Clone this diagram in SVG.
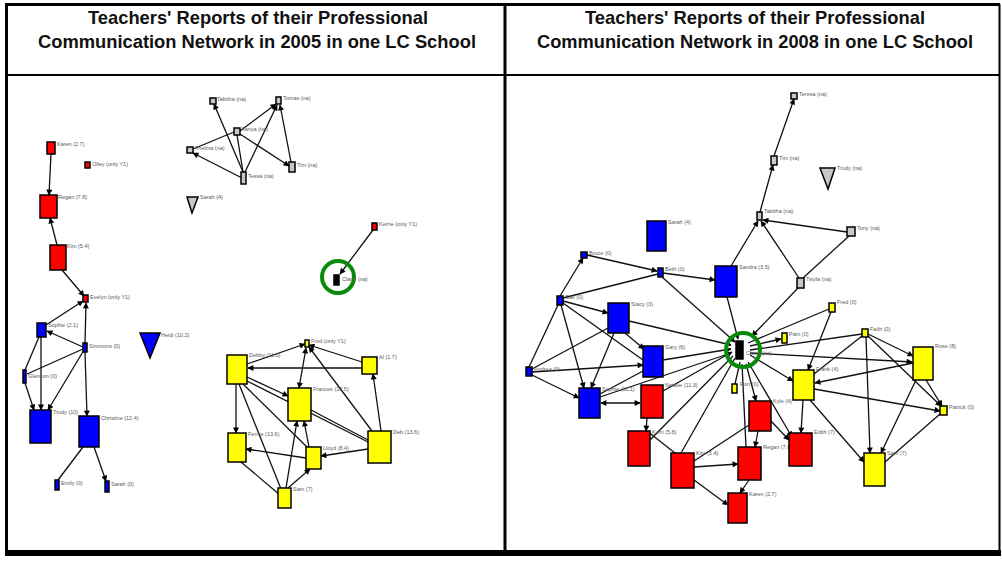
<svg xmlns="http://www.w3.org/2000/svg" width="1002" height="561" viewBox="0 0 1002 561">
  <style>
    .title { font-family: "Liberation Sans", Arial, sans-serif; font-weight: bold; font-size: 19px; fill: #111; }
    .lbl { font-family: "Liberation Sans", Arial, sans-serif; font-size: 5.5px; fill: #5a5a5a; }
    .frame { stroke: #000; fill: none; }
    .n { stroke: #000; stroke-width: 1.5; }
    .red { fill: #ff0000; }
    .blue { fill: #0000ff; }
    .yel { fill: #ffff00; }
    .gray { fill: #c8c8c8; }
    .blk { fill: #000; }
    .ring { fill: none; stroke: #0a8a0a; stroke-width: 4; }
    .e, .a, .b { stroke: #111; stroke-width: 1.3; fill: none; }
    .a { marker-end: url(#arr); }
    .b { marker-start: url(#arr); marker-end: url(#arr); }
  </style>
  <defs>
    <marker id="arr" viewBox="0 0 10 10" refX="9" refY="5" markerWidth="7" markerHeight="6" markerUnits="userSpaceOnUse" orient="auto-start-reverse">
      <path d="M0,0 L10,5 L0,10 z" fill="#000"/>
    </marker>
  </defs>

  <rect x="0" y="0" width="1002" height="561" fill="#fff"/>

  <!-- table frame -->
  <g id="frame">
    <line class="frame" x1="5" y1="4.5" x2="1000" y2="4.5" stroke-width="3"/>
    <line class="frame" x1="6.5" y1="4" x2="6.5" y2="556" stroke-width="3"/>
    <line class="frame" x1="505" y1="4" x2="505" y2="553" stroke-width="3"/>
    <line class="frame" x1="999.5" y1="4" x2="999.5" y2="553" stroke-width="2"/>
    <line class="frame" x1="6" y1="75" x2="1000" y2="75" stroke-width="2"/>
    <rect x="5" y="550" width="996" height="6" fill="#000"/>
  </g>

  <!-- headings -->
  <g id="headings">
    <text class="title" x="258" y="24" text-anchor="middle" textLength="340" lengthAdjust="spacingAndGlyphs">Teachers' Reports of their Professional</text>
    <text class="title" x="257" y="48" text-anchor="middle" textLength="438" lengthAdjust="spacingAndGlyphs">Communication Network in 2005 in one LC School</text>
    <text class="title" x="755" y="24" text-anchor="middle" textLength="340" lengthAdjust="spacingAndGlyphs">Teachers' Reports of their Professional</text>
    <text class="title" x="755" y="48" text-anchor="middle" textLength="436" lengthAdjust="spacingAndGlyphs">Communication Network in 2008 in one LC School</text>
  </g>

  <!-- ===== 2005 network: connectors ===== -->
  <g id="edges-2005">
    <line class="a" x1="51" y1="154" x2="49" y2="195"/>
    <line class="a" x1="57" y1="245" x2="50" y2="218"/>
    <line class="a" x1="62" y1="270" x2="84" y2="296"/>
    <line class="a" x1="85" y1="343" x2="86" y2="303"/>
    <line class="a" x1="46" y1="325" x2="83" y2="301"/>
    <line class="a" x1="83" y1="347" x2="47" y2="331"/>
    <line class="e" x1="39" y1="337" x2="25" y2="370"/>
    <line class="a" x1="41" y1="337" x2="41" y2="410"/>
    <line class="a" x1="25" y1="383" x2="34" y2="410"/>
    <line class="a" x1="84" y1="350" x2="48" y2="410"/>
    <line class="e" x1="83" y1="349" x2="27" y2="374"/>
    <line class="a" x1="85" y1="352" x2="87" y2="416"/>
    <line class="e" x1="83" y1="447" x2="58" y2="480"/>
    <line class="a" x1="94" y1="447" x2="106" y2="481"/>

    <line class="a" x1="243" y1="172" x2="214" y2="104"/>
    <line class="a" x1="242" y1="178" x2="193" y2="153"/>
    <line class="e" x1="243" y1="172" x2="237" y2="135"/>
    <line class="a" x1="245" y1="172" x2="277" y2="105"/>
    <line class="a" x1="240" y1="131" x2="276" y2="104"/>
    <line class="a" x1="240" y1="134" x2="289" y2="166"/>
    <line class="a" x1="291" y1="162" x2="280" y2="105"/>
    <line class="e" x1="193" y1="149" x2="234" y2="132"/>

    <line class="a" x1="373" y1="230" x2="340" y2="274"/>

    <line class="a" x1="247" y1="364" x2="305" y2="344"/>
    <line class="b" x1="299" y1="388" x2="306" y2="348"/>
    <line class="a" x1="362" y1="362" x2="309" y2="345"/>
    <line class="a" x1="372" y1="431" x2="309" y2="347"/>
    <line class="a" x1="362" y1="368" x2="248" y2="368"/>
    <line class="a" x1="247" y1="377" x2="288" y2="396"/>
    <line class="a" x1="236" y1="384" x2="236" y2="433"/>
    <line class="e" x1="243" y1="384" x2="308" y2="448"/>
    <line class="e" x1="239" y1="384" x2="281" y2="489"/>
    <line class="e" x1="247" y1="381" x2="368" y2="442"/>
    <line class="a" x1="286" y1="488" x2="297" y2="421"/>
    <line class="a" x1="309" y1="447" x2="304" y2="421"/>
    <line class="e" x1="311" y1="410" x2="368" y2="440"/>
    <line class="a" x1="381" y1="431" x2="373" y2="374"/>
    <line class="a" x1="368" y1="449" x2="321" y2="456"/>
    <line class="a" x1="306" y1="458" x2="246" y2="449"/>
    <line class="e" x1="241" y1="462" x2="280" y2="495"/>
    <line class="a" x1="288" y1="488" x2="310" y2="469"/>
  </g>

  <!-- ===== 2005 network: nodes ===== -->
  <g id="l-karen"><rect class="n red" x="47" y="142" width="8" height="12"/><text class="lbl" x="57" y="146">Karen (2.7)</text></g>
  <g id="l-olley"><rect class="n red" x="85" y="162" width="5" height="6"/><text class="lbl" x="92" y="166">Olley (only Y1)</text></g>
  <g id="l-regan"><rect class="n red" x="40" y="195" width="17" height="23"/><text class="lbl" x="58" y="199">Regan (7.8)</text></g>
  <g id="l-kim"><rect class="n red" x="50" y="245" width="16" height="25"/><text class="lbl" x="67" y="248">Kim (5.4)</text></g>
  <g id="l-evelyn"><rect class="n red" x="83" y="295" width="5" height="7"/><text class="lbl" x="90" y="299">Evelyn (only Y1)</text></g>

  <g id="l-sophie"><rect class="n blue" x="37" y="323" width="9" height="14"/><text class="lbl" x="48" y="327">Sophie (2.1)</text></g>
  <g id="l-simmons"><rect class="n blue" x="83" y="343" width="4" height="9"/><text class="lbl" x="89" y="348">Simmons (0)</text></g>
  <g id="l-glennon"><rect class="n blue" x="23" y="370" width="3" height="13"/><text class="lbl" x="28" y="378">Glennon (0)</text></g>
  <g id="l-trudy"><rect class="n blue" x="30" y="410" width="21" height="33"/><text class="lbl" x="53" y="414">Trudy (10)</text></g>
  <g id="l-christine"><rect class="n blue" x="79" y="416" width="20" height="31"/><text class="lbl" x="101" y="420">Christine (12.4)</text></g>
  <g id="l-emily"><rect class="n blue" x="55" y="480" width="4" height="10"/><text class="lbl" x="61" y="485">Emily (0)</text></g>
  <g id="l-sarah"><rect class="n blue" x="105" y="481" width="4" height="11"/><text class="lbl" x="111" y="486">Sarah (0)</text></g>
  <g id="l-heidi"><polygon class="n blue" points="140,333 160,333 150,358"/><text class="lbl" x="161" y="337">Heidi (10.2)</text></g>

  <g id="l-tabitha"><rect class="n gray" x="210" y="98" width="6" height="6"/><text class="lbl" x="217" y="101">Tabitha (na)</text></g>
  <g id="l-tomas"><rect class="n gray" x="276" y="97" width="5" height="7"/><text class="lbl" x="283" y="100">Tomas (na)</text></g>
  <g id="l-tanya"><rect class="n gray" x="234" y="128" width="6" height="7"/><text class="lbl" x="242" y="131">Tanya (na)</text></g>
  <g id="l-thelma"><rect class="n gray" x="187" y="147" width="6" height="6"/><text class="lbl" x="195" y="150">Thelma (na)</text></g>
  <g id="l-tim"><rect class="n gray" x="289" y="162" width="6" height="10"/><text class="lbl" x="297" y="167">Tim (na)</text></g>
  <g id="l-tessa"><rect class="n gray" x="241" y="172" width="5" height="12"/><text class="lbl" x="248" y="178">Tessa (na)</text></g>
  <g id="l-sarah-na"><polygon class="n gray" points="187,197 198,197 192,213"/><text class="lbl" x="200" y="199">Sarah (4)</text></g>

  <g id="l-claire"><circle class="ring" cx="338" cy="277" r="16"/><rect class="n blk" x="334" y="275" width="5" height="10"/><text class="lbl" x="342" y="281">Claire (na)</text></g>
  <g id="l-kerrie"><rect class="n red" x="372" y="223" width="5" height="7"/><text class="lbl" x="379" y="226">Kerrie (only Y1)</text></g>

  <g id="l-fred"><rect class="n yel" x="305" y="340" width="4" height="7"/><text class="lbl" x="311" y="343">Fred (only Y1)</text></g>
  <g id="l-debby"><rect class="n yel" x="227" y="355" width="20" height="29"/><text class="lbl" x="249" y="357">Debby (11.6)</text></g>
  <g id="l-al"><rect class="n yel" x="362" y="357" width="15" height="17"/><text class="lbl" x="379" y="359">Al (1.7)</text></g>
  <g id="l-frances"><rect class="n yel" x="288" y="388" width="23" height="33"/><text class="lbl" x="313" y="391">Frances (12.5)</text></g>
  <g id="l-fernie"><rect class="n yel" x="228" y="433" width="18" height="29"/><text class="lbl" x="248" y="436">Fernie (13.6)</text></g>
  <g id="l-lloyd"><rect class="n yel" x="306" y="447" width="15" height="22"/><text class="lbl" x="323" y="450">Lloyd (8.4)</text></g>
  <g id="l-deb"><rect class="n yel" x="368" y="431" width="23" height="32"/><text class="lbl" x="393" y="434">Deb (13.6)</text></g>
  <g id="l-sam"><rect class="n yel" x="278" y="488" width="13" height="20"/><text class="lbl" x="293" y="491">Sam (7)</text></g>

  <!-- ===== 2008 network: connectors ===== -->
  <g id="edges-2008">
    <line class="a" x1="774" y1="156" x2="794" y2="99"/>
    <line class="a" x1="760" y1="212" x2="773" y2="165"/>
    <line class="a" x1="847" y1="232" x2="763" y2="220"/>
    <line class="a" x1="799" y1="278" x2="761" y2="221"/>
    <line class="a" x1="731" y1="266" x2="758" y2="221"/>
    <line class="e" x1="803" y1="278" x2="849" y2="236"/>
    <line class="a" x1="798" y1="288" x2="752" y2="336"/>
    <line class="a" x1="727" y1="297" x2="738" y2="339"/>
    <line class="a" x1="663" y1="273" x2="715" y2="280"/>
    <line class="a" x1="587" y1="255" x2="657" y2="271"/>
    <line class="a" x1="560" y1="296" x2="583" y2="258"/>
    <line class="e" x1="563" y1="298" x2="658" y2="274"/>
    <line class="a" x1="662" y1="277" x2="735" y2="342"/>
    <line class="a" x1="563" y1="301" x2="608" y2="313"/>
    <line class="e" x1="563" y1="303" x2="643" y2="360"/>
    <line class="a" x1="561" y1="305" x2="584" y2="388"/>
    <line class="e" x1="558" y1="305" x2="529" y2="367"/>
    <line class="a" x1="629" y1="321" x2="731" y2="345"/>
    <line class="a" x1="614" y1="333" x2="591" y2="388"/>
    <line class="a" x1="625" y1="333" x2="644" y2="349"/>
    <line class="a" x1="532" y1="372" x2="643" y2="365"/>
    <line class="a" x1="532" y1="375" x2="579" y2="398"/>
    <line class="e" x1="532" y1="369" x2="608" y2="328"/>
    <line class="a" x1="663" y1="360" x2="731" y2="349"/>
    <line class="b" x1="601" y1="403" x2="640" y2="403"/>
    <line class="e" x1="600" y1="394" x2="643" y2="371"/>
    <line class="e" x1="600" y1="397" x2="731" y2="353"/>
    <line class="a" x1="663" y1="391" x2="732" y2="352"/>
    <line class="a" x1="647" y1="418" x2="646" y2="431"/>
    <line class="e" x1="650" y1="440" x2="733" y2="356"/>
    <line class="e" x1="681" y1="453" x2="735" y2="358"/>
    <line class="e" x1="647" y1="431" x2="675" y2="453"/>
    <line class="a" x1="694" y1="467" x2="738" y2="464"/>
    <line class="a" x1="694" y1="480" x2="728" y2="505"/>
    <line class="e" x1="694" y1="461" x2="749" y2="425"/>
    <line class="a" x1="758" y1="431" x2="755" y2="447"/>
    <line class="a" x1="749" y1="480" x2="740" y2="493"/>
    <line class="a" x1="746" y1="364" x2="756" y2="401"/>
    <line class="e" x1="742" y1="364" x2="746" y2="447"/>
    <line class="e" x1="740" y1="362" x2="735" y2="384"/>
    <line class="a" x1="748" y1="362" x2="792" y2="437"/>
    <line class="a" x1="750" y1="355" x2="793" y2="381"/>
    <line class="a" x1="750" y1="346" x2="781" y2="339"/>
    <line class="e" x1="748" y1="343" x2="829" y2="309"/>
    <line class="e" x1="750" y1="350" x2="862" y2="334"/>
    <line class="a" x1="750" y1="353" x2="912" y2="362"/>
    <line class="a" x1="831" y1="312" x2="808" y2="370"/>
    <line class="a" x1="868" y1="334" x2="913" y2="356"/>
    <line class="e" x1="862" y1="336" x2="814" y2="374"/>
    <line class="a" x1="866" y1="337" x2="870" y2="453"/>
    <line class="a" x1="868" y1="336" x2="941" y2="406"/>
    <line class="a" x1="913" y1="363" x2="815" y2="383"/>
    <line class="a" x1="926" y1="380" x2="942" y2="406"/>
    <line class="a" x1="916" y1="380" x2="881" y2="453"/>
    <line class="a" x1="814" y1="389" x2="940" y2="411"/>
    <line class="a" x1="803" y1="400" x2="801" y2="433"/>
    <line class="a" x1="810" y1="400" x2="864" y2="462"/>
    <line class="e" x1="940" y1="414" x2="885" y2="462"/>
    <line class="a" x1="771" y1="421" x2="789" y2="440"/>
  </g>

  <!-- ===== 2008 network: nodes ===== -->
  <g id="r-teresa"><rect class="n gray" x="791" y="93" width="6" height="6"/><text class="lbl" x="799" y="96">Teresa (na)</text></g>
  <g id="r-tim"><rect class="n gray" x="771" y="156" width="6" height="9"/><text class="lbl" x="779" y="160">Tim (na)</text></g>
  <g id="r-trudy"><polygon class="n gray" points="820,168 835,168 828,189"/><text class="lbl" x="837" y="170">Trudy (na)</text></g>
  <g id="r-tabitha"><rect class="n gray" x="757" y="212" width="5" height="8"/><text class="lbl" x="764" y="213">Tabitha (na)</text></g>
  <g id="r-tony"><rect class="n gray" x="847" y="227" width="8" height="9"/><text class="lbl" x="857" y="230">Tony (na)</text></g>
  <g id="r-twyla"><rect class="n gray" x="797" y="278" width="7" height="10"/><text class="lbl" x="806" y="281">Twyla (na)</text></g>

  <g id="r-sarah"><rect class="n blue" x="647" y="221" width="19" height="30"/><text class="lbl" x="668" y="224">Sarah (4)</text></g>
  <g id="r-bruce"><rect class="n blue" x="581" y="252" width="6" height="6"/><text class="lbl" x="589" y="255">Bruce (0)</text></g>
  <g id="r-beth"><rect class="n blue" x="658" y="268" width="5" height="9"/><text class="lbl" x="665" y="271">Beth (0)</text></g>
  <g id="r-sandra"><rect class="n blue" x="715" y="266" width="22" height="31"/><text class="lbl" x="739" y="269">Sandra (3.5)</text></g>
  <g id="r-gail"><rect class="n blue" x="557" y="296" width="6" height="9"/><text class="lbl" x="565" y="299">Gail (0)</text></g>
  <g id="r-stacy"><rect class="n blue" x="608" y="303" width="21" height="30"/><text class="lbl" x="631" y="306">Stacy (3)</text></g>
  <g id="r-gary"><rect class="n blue" x="643" y="346" width="20" height="31"/><text class="lbl" x="665" y="349">Gary (6)</text></g>
  <g id="r-andrea"><rect class="n blue" x="526" y="367" width="6" height="9"/><text class="lbl" x="534" y="371">Andrea (0)</text></g>
  <g id="r-sophie"><rect class="n blue" x="579" y="388" width="21" height="30"/><text class="lbl" x="602" y="391">Sophie (11.1)</text></g>

  <g id="r-natalie"><rect class="n red" x="641" y="385" width="22" height="33"/><text class="lbl" x="665" y="387">Natalie (11.3)</text></g>
  <g id="r-kerri"><rect class="n red" x="628" y="431" width="22" height="35"/><text class="lbl" x="652" y="434">Kerri (5.8)</text></g>
  <g id="r-kim"><rect class="n red" x="671" y="453" width="23" height="35"/><text class="lbl" x="696" y="455">Kim (5.4)</text></g>
  <g id="r-kyle"><rect class="n red" x="749" y="401" width="22" height="30"/><text class="lbl" x="773" y="403">Kyle (4)</text></g>
  <g id="r-regan"><rect class="n red" x="738" y="447" width="23" height="33"/><text class="lbl" x="763" y="449">Regan (7.8)</text></g>
  <g id="r-karen"><rect class="n red" x="728" y="493" width="19" height="30"/><text class="lbl" x="749" y="496">Karen (2.7)</text></g>
  <g id="r-edith"><rect class="n red" x="789" y="433" width="23" height="33"/><text class="lbl" x="814" y="434">Edith (7)</text></g>

  <g id="r-fred"><rect class="n yel" x="829" y="303" width="6" height="9"/><text class="lbl" x="837" y="304">Fred (0)</text></g>
  <g id="r-ron"><rect class="n yel" x="732" y="384" width="5" height="9"/><text class="lbl" x="740" y="386">Ron (0)</text></g>
  <g id="r-pam"><rect class="n yel" x="782" y="333" width="5" height="10"/><text class="lbl" x="789" y="336">Pam (0)</text></g>
  <g id="r-faith"><rect class="n yel" x="862" y="329" width="6" height="8"/><text class="lbl" x="870" y="331">Faith (0)</text></g>
  <g id="r-rose"><rect class="n yel" x="913" y="347" width="20" height="33"/><text class="lbl" x="935" y="348">Rose (8)</text></g>
  <g id="r-frank"><rect class="n yel" x="793" y="370" width="21" height="30"/><text class="lbl" x="816" y="371">Frank (4)</text></g>
  <g id="r-patrick"><rect class="n yel" x="940" y="406" width="7" height="9"/><text class="lbl" x="949" y="409">Patrick (0)</text></g>
  <g id="r-sam"><rect class="n yel" x="864" y="453" width="21" height="33"/><text class="lbl" x="887" y="455">Sam (7)</text></g>

  <g id="r-claire"><rect class="n blk" x="736" y="341" width="7" height="18"/><circle class="ring" cx="743" cy="350" r="17"/><text class="lbl" x="746" y="355">Claire (na)</text></g>
</svg>
